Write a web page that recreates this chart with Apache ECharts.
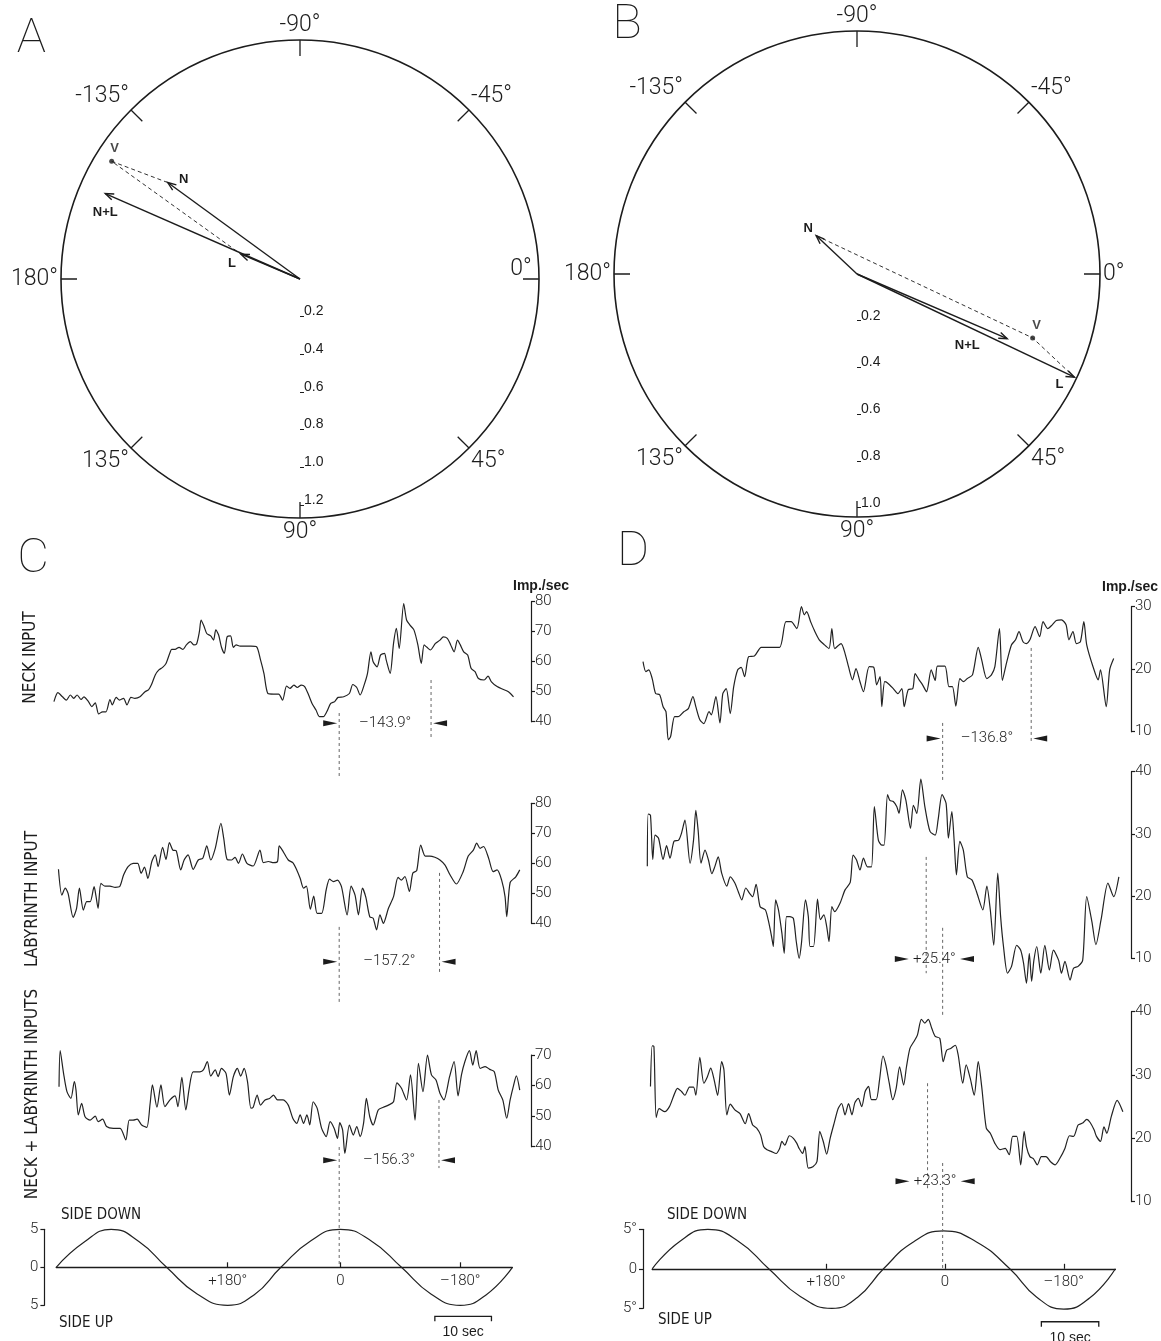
<!DOCTYPE html>
<html>
<head>
<meta charset="utf-8">
<title>Neck and labyrinth input vectors</title>
<script src="https://cdn.jsdelivr.net/npm/echarts@6/dist/echarts.min.js"></script>
<style>
  html, body { margin: 0; padding: 0; background: #ffffff; }
  #chart { width: 1161px; height: 1341px; }
</style>
</head>
<body>
<div id="chart"></div>
<script>
// ------------------------------------------------------------------
// Data
// ------------------------------------------------------------------

// Sinusoidal lateral tilt (±5°), period in seconds
const STIM_PERIOD = 40.6;

// Polar plots: response vectors (gain, phase in degrees)
const vectorNames = ['N', 'L', 'N+L'];
const gainA = [0.87, 0.34, 1.13];
const phaseA = [-143.9, -157.2, -156.3];
const predictedA = [1.18, -148.0];          // V = vector sum of N and L
const gainB = [0.24, 1.03, 0.70];
const phaseB = [-136.8, 25.4, 23.3];
const predictedB = [0.80, 20.0];

const radiusTicksA = [0.2, 0.4, 0.6, 0.8, 1.0, 1.2];
const radiusTicksB = [0.2, 0.4, 0.6, 0.8, 1.0];

// Discharge rate (imp./sec) against time (s) — cell C
const neckC = [[-0.4,46.7],[0.3,49.7],[1.1,48.3],[1.8,47.2],[2.5,48.9],[3.1,47.8],[3.7,48.9],[4.4,47.4],[4.9,48.3],[5.7,46.7],[6.3,45.0],[6.9,46.3],[7.5,42.6],[8.2,43.3],[8.8,43.3],[9.5,47.4],[9.9,45.6],[10.6,48.1],[11.2,47.2],[11.9,47.8],[12.5,45.6],[13.2,48.1],[13.9,47.8],[14.8,48.3],[15.7,50.0],[16.3,50.6],[16.8,52.2],[17.5,55.6],[18.1,57.2],[18.8,58.1],[19.4,59.4],[20.1,63.0],[20.4,64.1],[21.0,64.1],[21.7,64.8],[22.4,64.1],[23.0,65.6],[23.7,66.7],[24.3,65.6],[24.8,65.9],[25.3,70.0],[25.6,73.9],[26.1,71.9],[26.6,69.4],[27.3,68.6],[27.8,67.2],[28.2,70.6],[28.7,68.9],[29.2,64.8],[29.7,62.8],[30.2,68.3],[30.8,68.6],[31.3,64.8],[31.8,65.6],[32.5,65.2],[33.5,65.2],[34.4,65.2],[35.4,65.0],[36.1,60.6],[36.7,56.1],[37.4,49.4],[38.4,49.2],[39.3,49.2],[40.0,47.2],[40.7,51.9],[41.3,51.1],[42.0,52.2],[42.6,51.4],[43.3,52.2],[43.9,51.7],[44.6,48.9],[45.2,46.1],[45.9,43.9],[46.5,41.7],[47.2,41.7],[47.8,43.3],[48.5,46.1],[49.2,46.7],[49.8,48.1],[50.8,48.3],[51.8,49.4],[52.4,52.4],[53.1,51.4],[53.7,48.9],[54.4,52.2],[55.0,56.1],[55.6,63.3],[56.0,60.0],[56.7,58.3],[57.3,62.2],[58.0,62.8],[58.3,60.6],[59.0,56.1],[59.6,66.1],[60.1,71.1],[60.6,64.4],[61.4,79.4],[61.9,73.9],[62.5,72.2],[63.2,70.6],[63.9,65.6],[64.5,59.4],[65.0,65.6],[65.5,64.8],[66.1,63.9],[67.0,66.1],[67.8,67.2],[68.4,68.3],[69.1,67.8],[69.7,65.6],[70.3,63.3],[70.9,67.2],[71.4,65.6],[72.0,63.3],[72.7,62.2],[73.3,57.8],[74.0,56.7],[74.6,54.4],[75.6,53.9],[76.3,55.2],[76.9,53.3],[77.9,51.7],[78.9,50.8],[79.9,50.0],[80.8,48.3]];

const labyrinthC = [[0.4,58.0],[1.0,49.4],[1.6,51.7],[2.1,50.0],[3.0,42.0],[3.6,45.0],[4.1,51.7],[4.8,44.4],[5.4,47.2],[6.0,47.2],[6.7,52.2],[7.0,49.4],[7.4,45.0],[7.9,53.3],[8.6,52.4],[9.5,52.4],[10.4,52.0],[11.2,52.2],[11.9,56.1],[12.7,58.9],[13.6,60.0],[14.4,60.0],[15.0,56.7],[15.6,58.7],[16.2,55.0],[16.9,60.6],[17.5,62.8],[18.0,58.9],[18.8,65.3],[19.4,61.3],[20.0,66.9],[20.6,64.4],[21.2,64.2],[22.0,57.8],[22.6,61.1],[23.3,62.8],[24.2,58.0],[25.1,61.1],[25.9,61.7],[26.6,65.8],[27.3,61.1],[28.1,65.0],[29.1,73.3],[29.6,68.3],[30.2,61.3],[31.0,61.1],[31.6,62.0],[32.2,60.0],[32.9,63.1],[33.7,60.0],[34.8,59.1],[36.0,64.4],[36.6,60.2],[37.5,60.6],[38.4,60.2],[39.1,60.6],[39.4,65.8],[40.1,63.9],[41.0,61.1],[41.8,60.2],[42.5,57.8],[43.1,55.0],[43.7,51.7],[44.2,52.4],[44.9,44.7],[45.5,49.1],[46.1,43.3],[46.9,43.3],[47.7,51.1],[48.3,54.7],[49.0,53.9],[49.7,54.4],[50.4,52.2],[51.4,42.8],[52.1,52.4],[52.8,49.4],[53.4,42.8],[54.1,51.7],[54.7,48.7],[55.4,42.2],[56.0,41.7],[56.6,37.8],[57.2,42.8],[57.8,40.0],[58.7,45.0],[59.6,48.9],[60.4,55.3],[61.0,54.4],[61.6,55.6],[62.4,50.6],[63.0,56.7],[63.7,57.6],[64.4,66.1],[65.2,62.4],[66.0,62.4],[66.9,62.0],[67.8,61.1],[68.7,59.4],[69.6,56.1],[70.7,53.1],[71.9,57.2],[72.8,62.4],[73.7,64.4],[74.3,66.7],[74.9,65.0],[75.5,65.6],[76.4,61.7],[77.2,57.2],[77.9,57.8],[78.7,54.4],[79.3,48.9],[79.6,42.2],[80.2,53.6],[81.2,55.5],[81.9,57.8]];

const combinedC = [[0.5,59.6],[0.7,71.4],[1.3,64.0],[1.9,58.0],[2.6,55.8],[3.2,61.3],[3.5,58.5],[3.9,50.4],[4.5,54.2],[5.1,49.8],[6.0,48.7],[6.9,50.0],[7.4,48.2],[8.2,49.0],[8.9,46.6],[10.1,46.0],[11.3,46.0],[12.3,42.2],[12.9,48.7],[13.6,48.7],[14.3,49.0],[15.1,47.1],[16.0,46.3],[16.6,54.2],[17.0,60.2],[17.8,52.9],[18.5,60.2],[19.2,53.1],[20.1,55.3],[21.0,56.6],[21.5,53.1],[22.2,62.7],[22.9,52.0],[23.5,59.1],[24.2,64.5],[25.4,64.5],[26.0,65.1],[26.7,67.8],[27.3,63.1],[28.1,65.1],[28.6,62.9],[29.2,65.6],[30.0,64.0],[30.6,56.9],[31.3,62.9],[32.0,65.6],[32.6,63.1],[33.2,65.6],[33.8,61.3],[34.4,52.6],[34.8,52.9],[35.5,56.9],[36.1,53.6],[36.9,55.3],[37.7,55.8],[38.4,56.9],[39.1,55.3],[40.1,55.3],[41.0,53.6],[41.8,49.3],[42.5,47.6],[43.1,50.4],[43.7,47.6],[44.3,50.4],[44.8,47.1],[45.4,54.7],[46.1,52.6],[46.9,46.0],[47.7,43.3],[48.4,48.2],[49.1,46.0],[49.7,42.7],[50.1,47.9],[50.6,45.5],[51.0,37.8],[51.8,47.1],[52.5,43.8],[53.1,46.6],[53.7,43.3],[54.3,47.6],[54.8,55.8],[55.4,49.8],[56.0,47.1],[56.9,52.0],[57.8,52.9],[58.7,53.6],[59.6,54.7],[60.2,60.9],[61.0,59.1],[61.9,55.3],[62.6,63.5],[63.4,48.7],[64.0,67.3],[64.8,58.0],[65.6,70.0],[66.3,63.5],[67.1,61.8],[67.8,57.5],[68.5,55.3],[69.5,62.9],[70.3,67.8],[71.0,56.6],[71.6,63.5],[72.2,67.8],[73.0,71.4],[73.6,66.7],[74.2,71.4],[74.9,65.6],[75.8,66.2],[76.6,65.3],[77.4,64.5],[78.1,58.5],[78.9,55.3],[79.6,49.3],[80.2,55.3],[80.8,60.0],[81.3,63.2],[81.9,58.5]];

// Cell D
const neckD = [[-1.6,21.2],[-1.1,19.6],[-0.6,19.9],[0.0,18.5],[0.6,16.1],[1.3,15.9],[1.9,14.0],[2.4,13.2],[2.8,8.7],[3.2,9.2],[3.9,12.4],[4.5,12.4],[5.5,13.2],[6.3,13.7],[7.1,15.6],[7.6,14.0],[8.3,11.9],[9.0,11.3],[9.9,13.2],[10.3,12.7],[11.1,15.6],[11.8,11.4],[12.3,16.1],[12.9,16.9],[13.6,12.9],[14.2,17.2],[14.9,19.9],[15.5,20.3],[16.1,18.8],[16.8,22.0],[17.8,22.1],[19.0,23.5],[20.3,23.5],[22.2,23.5],[23.3,27.6],[24.2,27.6],[25.2,26.5],[26.0,30.0],[26.5,28.7],[26.9,29.2],[27.6,27.6],[28.2,26.3],[29.1,24.7],[30.0,23.9],[30.8,23.3],[31.3,26.5],[31.8,23.3],[32.9,24.1],[33.6,22.5],[34.2,20.4],[34.9,18.3],[35.5,20.1],[36.2,18.0],[36.8,16.4],[37.8,20.4],[38.6,20.3],[39.1,17.5],[39.7,18.8],[40.0,14.0],[40.5,18.0],[41.0,17.8],[42.0,16.9],[42.8,16.1],[43.5,16.9],[43.9,14.0],[44.6,16.7],[45.4,16.9],[45.8,19.3],[46.5,18.3],[47.1,17.5],[47.8,16.4],[48.6,19.9],[49.3,18.2],[49.7,20.5],[51.0,20.5],[51.7,17.2],[52.3,17.2],[52.9,14.1],[53.6,18.5],[54.2,18.0],[54.9,18.5],[55.8,19.1],[56.8,23.5],[57.4,21.5],[58.3,18.5],[59.1,19.1],[59.7,20.4],[60.5,26.5],[61.0,18.2],[61.7,20.9],[62.6,23.9],[63.3,24.7],[63.9,26.0],[64.6,24.4],[65.2,24.1],[65.8,24.7],[66.7,26.8],[67.5,25.2],[68.1,27.6],[68.9,26.5],[69.7,27.1],[70.4,27.8],[71.3,27.9],[72.1,27.1],[72.6,24.7],[73.3,26.0],[73.9,24.1],[74.6,24.4],[75.2,27.6],[75.7,23.9],[76.8,20.4],[77.7,18.3],[78.1,19.9],[79.1,14.0],[79.7,19.9],[80.4,21.7]];

const labyrinthD = [[-0.85,24.8],[-0.7,33.2],[-0.3,33.0],[0.1,25.9],[0.5,29.8],[1.1,29.3],[1.9,25.9],[2.5,28.1],[3.1,26.1],[3.8,28.8],[4.6,29.0],[5.1,30.1],[5.7,32.2],[6.6,25.3],[7.2,29.0],[7.6,33.8],[8.0,30.6],[8.5,25.3],[9.2,27.4],[9.8,25.8],[10.4,23.6],[10.9,24.7],[11.5,26.3],[12.1,23.7],[13.0,21.6],[13.6,23.1],[14.4,22.1],[15.0,20.7],[15.6,19.4],[16.3,21.3],[17.0,20.4],[17.5,19.9],[18.1,21.9],[18.8,18.3],[19.7,17.8],[20.2,16.2],[20.8,13.5],[21.1,11.9],[21.5,19.4],[22.0,17.8],[22.6,14.0],[23.0,10.8],[23.4,16.7],[24.0,16.7],[24.6,16.4],[25.1,12.7],[25.6,10.0],[26.0,12.4],[26.7,19.4],[27.2,16.7],[27.5,11.9],[28.1,11.9],[28.8,19.5],[29.3,16.2],[29.9,17.0],[30.4,15.1],[30.8,12.7],[31.3,18.3],[31.8,17.5],[32.7,18.8],[33.6,21.0],[34.5,22.2],[35.0,26.6],[35.6,25.8],[36.2,24.2],[36.8,26.1],[37.5,24.7],[38.2,24.7],[38.7,34.4],[39.4,29.0],[40.0,28.2],[40.4,28.2],[41.0,36.3],[41.4,35.4],[42.0,35.2],[42.6,34.4],[43.0,33.3],[43.6,37.1],[44.2,35.4],[45.0,30.9],[45.5,34.6],[46.1,33.3],[46.8,38.8],[47.5,34.4],[48.4,30.4],[49.3,29.8],[49.8,32.2],[50.5,36.3],[51.2,34.9],[51.6,29.3],[52.2,33.6],[52.6,29.0],[53.0,23.4],[53.6,28.8],[54.2,27.4],[54.9,23.1],[55.7,22.6],[56.5,20.7],[57.6,17.8],[58.3,21.6],[58.9,17.8],[59.5,12.1],[60.2,23.7],[60.7,16.7],[61.2,11.9],[61.9,7.6],[62.6,8.7],[63.5,12.1],[64.2,11.3],[64.7,9.2],[65.2,6.0],[65.7,10.8],[66.1,6.3],[66.5,9.7],[67.0,11.9],[67.7,7.6],[68.4,12.1],[69.2,8.1],[69.9,11.3],[70.8,9.7],[71.3,7.6],[71.9,9.5],[72.8,6.5],[73.4,8.4],[74.2,8.7],[75.0,9.7],[75.7,19.9],[76.6,15.9],[77.3,12.2],[78.2,16.2],[79.4,22.1],[80.4,19.9],[81.3,23.1]];

const combinedD = [[-0.3,28.2],[0.0,34.6],[0.3,34.5],[0.7,23.3],[1.2,24.7],[2.2,24.2],[3.0,25.0],[3.7,26.6],[4.4,27.9],[5.1,27.4],[5.7,26.8],[6.5,28.1],[7.2,28.1],[7.6,26.8],[8.3,32.8],[9.0,28.7],[9.6,29.7],[10.2,31.1],[10.8,29.2],[11.4,26.8],[12.1,32.1],[12.5,30.8],[13.0,23.7],[13.6,25.4],[14.4,24.5],[15.3,23.9],[16.2,22.3],[16.8,23.9],[17.5,22.1],[18.2,21.6],[18.9,20.5],[19.4,18.7],[20.0,18.2],[20.8,17.9],[21.6,17.6],[22.2,18.4],[22.6,19.5],[23.1,18.9],[23.9,20.4],[24.6,20.0],[25.2,19.2],[25.6,18.4],[26.2,17.6],[26.6,18.7],[27.2,15.3],[28.0,15.5],[28.7,16.3],[29.2,21.1],[29.8,19.5],[30.4,17.5],[31.0,20.0],[31.7,22.4],[32.4,24.7],[33.0,25.5],[33.6,23.7],[34.2,25.5],[34.8,23.7],[35.3,25.6],[35.9,26.3],[36.5,25.0],[37.1,27.4],[37.7,28.2],[38.2,26.1],[39.0,26.1],[39.6,29.2],[40.2,33.0],[40.7,31.6],[41.3,28.7],[41.9,26.1],[42.5,27.9],[43.1,31.3],[43.8,28.4],[44.3,31.3],[44.9,34.2],[45.6,35.3],[46.2,36.3],[46.9,38.8],[47.5,38.2],[48.1,38.8],[48.7,37.4],[49.3,36.1],[50.1,35.8],[50.7,32.1],[51.3,33.9],[52.0,34.2],[52.8,34.7],[53.3,33.2],[54.1,28.7],[54.7,31.6],[55.4,29.5],[56.1,26.8],[56.8,32.1],[57.4,28.2],[58.2,21.6],[58.9,20.8],[59.7,19.2],[60.6,18.2],[61.5,18.4],[62.2,17.4],[62.8,20.3],[63.5,20.3],[64.2,15.8],[64.8,21.1],[65.2,18.7],[65.8,17.1],[66.4,16.8],[67.1,15.8],[67.8,17.1],[68.6,17.1],[69.4,16.3],[70.2,15.8],[71.0,16.8],[71.9,18.4],[72.7,20.4],[73.4,20.3],[74.2,22.1],[75.0,22.4],[75.7,23.0],[76.3,22.5],[77.0,21.3],[77.4,20.3],[78.1,19.5],[78.7,21.8],[79.2,20.8],[80.0,23.5],[81.0,26.0],[82.0,24.2]];

// Table tilt (deg, side down positive) against time (s)
const tiltC = [[0,0],[4.9,3.3],[9.7,5],[14.6,3.4],[19.5,0],[24.9,-3.5],[30.3,-5],[35.0,-3.6],[39.7,0],[45.0,3.5],[50.2,5],[55.6,3.5],[61.0,0],[66.2,-3.5],[71.4,-5],[76.0,-3.6],[80.6,0]];
const tiltD = [[0,0],[4.85,3.5],[9.7,5],[15.0,3.5],[20.3,0],[25.8,-3.5],[31.3,-5],[35.8,-3.6],[40.3,0],[45.5,3.4],[50.7,4.8],[56.5,3.4],[62.3,0],[67.0,-3.6],[71.7,-5.1],[76.2,-3.7],[80.7,0]];

// Stimulus phase marks on the tilt trace
const tiltTickTimesC = [30.3, 50.2, 71.4];
const tiltTickTimesD = [30.3, 51.0, 71.7];
const tiltTickLabels = ['+180°', '0', '\u2013180°'];

// Response phase (deg) measured from the stimulus peak
const phaseC = [-143.9, -157.2, -156.3];
const phaseD = [-136.8, 25.4, 23.3];
const stimPeakC = 50.0;
const stimPeakD = 50.6;

// 10 s calibration bar start (s)
const barStartC = 66.9;
const barStartD = 67.8;
const BAR_LENGTH = 10;

// ------------------------------------------------------------------
// Styling and layout
// ------------------------------------------------------------------
const INK = '#1c1c1c';
const SANS = '"Liberation Sans", Arial, Helvetica, sans-serif';
const LIGHT = 'Roboto, "Liberation Sans", Arial, sans-serif';
const NARROW = '"Liberation Sans Narrow", "DejaVu Sans Condensed", "Liberation Sans", sans-serif';

const toAxisAngle = a => (a < 90 ? a + 360 : a);
const angleText = v => {
  if (v >= 450) return '';
  const d = v > 180 ? v - 360 : v;
  return d + '°';
};

const polarLayout = [
  { center: [300, 279], radius: 239, max: 1.27, ticks: radiusTicksA },
  { center: [857, 274], radius: 243, max: 1.04, ticks: radiusTicksB }
];

// vector label offsets (px from tip)
const labelOffsetsA = { 'N': [16, -3], 'L': [-9, 9], 'N+L': [0, 19], 'V': [3, -12] };
const labelOffsetsB = { 'N': [-8, -7], 'L': [-15, 7], 'N+L': [-40, 7], 'V': [4, -10] };

const panelC = { x0: 56.2, pps: 5.66, axisX: 531, tMin: -1 };
const panelD = { x0: 652.2, pps: 5.74, axisX: 1131, tMin: -2 };

const traceRows = [
  { panel: panelC, top: 601.7, min: 40, max: 80, ppu: 3.0,  data: neckC },
  { panel: panelC, top: 803.3, min: 40, max: 80, ppu: 3.0,  data: labyrinthC },
  { panel: panelC, top: 1055,  min: 40, max: 70, ppu: 3.056, data: combinedC },
  { panel: panelD, top: 606.7, min: 10, max: 30, ppu: 6.25, data: neckD },
  { panel: panelD, top: 771.7, min: 10, max: 40, ppu: 6.22, data: labyrinthD },
  { panel: panelD, top: 1011.7, min: 10, max: 40, ppu: 6.33, data: combinedD }
];
const tiltRows = [
  { panel: panelC, top: 1229.3, ppu: 7.6, axisGap: 11.8, data: tiltC, ticks: tiltTickTimesC, deg: false, bar: barStartC, barLevel: -6.45 },
  { panel: panelD, top: 1229.3, ppu: 7.9, axisGap: 9.2, data: tiltD, ticks: tiltTickTimesD, deg: true, bar: barStartD, barLevel: -6.7 }
];

// phase mark geometry in value units of each trace axis
const markLayout = [
  { row: 39.5, ref: [42.9, 21.2], resp: [53.9, 34.9] },
  { row: 27.2, ref: [38.8, 13.4], resp: [56.8, 23.8] },
  { row: 35.6, ref: [39.9, 0.6],  resp: [55.3, 33.0] },
  { row: 8.9,  ref: [11.4, 1.9],  resp: [23.4, 8.2] },
  { row: 9.9,  ref: [14.9, 0.9],  resp: [26.3, 7.6] },
  { row: 13.2, ref: [16.1, -0.6], resp: [28.7, 11.8] }
];

// ------------------------------------------------------------------
// Option
// ------------------------------------------------------------------
const grids = [], xAxes = [], yAxes = [], series = [];

traceRows.forEach((row, i) => {
  const p = row.panel;
  const left = p.x0 + p.tMin * p.pps;
  grids.push({ left, top: row.top, width: p.axisX - left, height: (row.max - row.min) * row.ppu,
               containLabel: false, outerBoundsMode: 'none' });
  xAxes.push({ gridIndex: i, type: 'value', min: p.tMin, max: (p.axisX - p.x0) / p.pps, show: false });
  yAxes.push({
    gridIndex: i, type: 'value', position: 'right', min: row.min, max: row.max, interval: 10,
    axisLine: { show: true, onZero: false, lineStyle: { color: INK, width: 1.2 } },
    axisTick: { show: true, length: 4, lineStyle: { color: INK, width: 1.2 } },
    axisLabel: { show: true, margin: 4, color: INK, fontSize: 15, fontFamily: LIGHT, fontWeight: 300 },
    splitLine: { show: false }
  });
  series.push({
    type: 'line', xAxisIndex: i, yAxisIndex: i, data: row.data, showSymbol: false, symbol: 'none',
    smooth: 0.25, clip: false, silent: true, z: 3,
    lineStyle: { color: '#222', width: 1.2 }
  });
});

tiltRows.forEach((row, k) => {
  const i = grids.length;
  const p = row.panel;
  const tEnd = row.data[row.data.length - 1][0];
  const half = 5 * row.ppu;
  grids.push({ left: p.x0, top: row.top, width: tEnd * p.pps, height: 2 * half,
               containLabel: false, outerBoundsMode: 'none' });
  // time axis drawn through the zero-tilt line
  xAxes.push({
    gridIndex: i, type: 'value', min: 0, max: tEnd, position: 'bottom', offset: -half,
    axisLine: { show: true, onZero: false, lineStyle: { color: INK, width: 1.3 } },
    axisTick: { show: true, inside: true, length: 5, customValues: row.ticks, lineStyle: { color: INK, width: 1.2 } },
    axisLabel: {
      show: true, customValues: row.ticks, margin: 6, color: INK, fontSize: 15, fontFamily: LIGHT, fontWeight: 300,
      formatter: v => { const j = row.ticks.findIndex(t => Math.abs(t - v) < 1e-6); return j >= 0 ? tiltTickLabels[j] : ''; }
    },
    splitLine: { show: false }
  });
  yAxes.push({
    gridIndex: i, type: 'value', position: 'left', offset: row.axisGap, min: -5, max: 5, interval: 5,
    axisLine: { show: true, onZero: false, lineStyle: { color: INK, width: 1.2 } },
    axisTick: { show: true, length: 4, lineStyle: { color: INK, width: 1.2 } },
    axisLabel: { show: true, margin: 6, color: INK, fontSize: 15, fontFamily: LIGHT, fontWeight: 300,
                 formatter: v => (v === 0 ? '0' : Math.abs(v) + (row.deg ? '°' : '')) },
    splitLine: { show: false }
  });
  series.push({
    type: 'line', xAxisIndex: i, yAxisIndex: i, data: row.data, showSymbol: false, symbol: 'none',
    smooth: 0.5, clip: false, silent: true, z: 3, lineStyle: { color: '#222', width: 1.2 }
  });
  // 10 s calibration bar
  series.push({
    type: 'custom', xAxisIndex: i, yAxisIndex: i, silent: true, z: 4,
    data: [[row.bar, BAR_LENGTH]],
    renderItem: (params, api) => {
      const a = api.coord([api.value(0), row.barLevel]);
      const b = api.coord([api.value(0) + api.value(1), row.barLevel]);
      return { type: 'group', children: [
        { type: 'polyline', shape: { points: [[a[0], a[1] + 5], a, b, [b[0], b[1] + 5]] },
          style: { stroke: INK, lineWidth: 1.3, fill: null } },
        { type: 'text', x: (a[0] + b[0]) / 2, y: a[1] + 16,
          style: { text: '10 sec', fill: INK, fontSize: 14, fontFamily: SANS,
                   align: 'center', verticalAlign: 'middle', textAlign: 'center', textVerticalAlign: 'middle' } }
      ] };
    }
  });
});

// phase marks on each discharge trace
const allPhases = phaseC.concat(phaseD);
allPhases.forEach((ph, i) => {
  const lay = markLayout[i];
  const t0 = i < 3 ? stimPeakC : stimPeakD;
  series.push({
    type: 'custom', xAxisIndex: i, yAxisIndex: i, silent: true, z: 4,
    data: [[t0, ph]],
    renderItem: (params, api) => {
      const tRef = api.value(0), phase = api.value(1);
      const tResp = tRef - phase / 360 * STIM_PERIOD;
      const r1 = api.coord([tRef, lay.ref[0]]), r2 = api.coord([tRef, lay.ref[1]]);
      const p1 = api.coord([tResp, lay.resp[0]]), p2 = api.coord([tResp, lay.resp[1]]);
      const y = api.coord([tRef, lay.row])[1];
      const lo = Math.min(r1[0], p1[0]), hi = Math.max(r1[0], p1[0]);
      const text = (phase < 0 ? '\u2013' : '+') + Math.abs(phase).toFixed(1) + '°';
      const cx = (lo + hi) / 2, half = text.length * 3.6;
      const tl = Math.min(lo - 2, cx - half - 4), tr = Math.max(hi + 2, cx + half + 4);
      const dash = { stroke: '#666', lineWidth: 1, lineDash: [3, 3], fill: null };
      return { type: 'group', children: [
        { type: 'line', shape: { x1: r1[0], y1: r1[1], x2: r2[0], y2: r2[1] }, style: dash },
        { type: 'line', shape: { x1: p1[0], y1: p1[1], x2: p2[0], y2: p2[1] }, style: dash },
        { type: 'polygon', shape: { points: [[tl - 14, y - 3], [tl, y], [tl - 14, y + 3]] }, style: { fill: INK } },
        { type: 'polygon', shape: { points: [[tr + 14, y - 3], [tr, y], [tr + 14, y + 3]] }, style: { fill: INK } },
        { type: 'text', x: cx, y: y,
          style: { text, fill: INK, fontSize: 15, fontFamily: LIGHT, fontWeight: 300,
                   align: 'center', verticalAlign: 'middle', textAlign: 'center', textVerticalAlign: 'middle' } }
      ] };
    }
  });
});

// polar diagrams
const angleAxes = [], radiusAxes = [], polars = [];
polarLayout.forEach((pl, i) => {
  polars.push({ center: pl.center, radius: pl.radius });
  angleAxes.push({
    polarIndex: i, type: 'value', min: 90, max: 450, interval: 45, startAngle: 270, clockwise: true,
    axisLine: { show: true, lineStyle: { color: INK, width: 1.6 } },
    axisTick: { show: true, inside: true, length: 16, lineStyle: { color: INK, width: 1.3 } },
    axisLabel: { show: true, margin: 3, color: INK, fontSize: 23, fontFamily: LIGHT, fontWeight: 300,
                 formatter: i === 0 ? (v => (v === 360 ? '' : angleText(v))) : angleText },
    splitLine: { show: false }, splitArea: { show: false }
  });
  radiusAxes.push({
    polarIndex: i, type: 'value', min: 0, max: pl.max, interval: 0.2,
    axisLine: { show: false },
    axisTick: { show: true, length: 4, customValues: pl.ticks, lineStyle: { color: INK, width: 1 } },
    axisLabel: { show: true, customValues: pl.ticks, margin: 4, color: INK, fontSize: 14, fontFamily: SANS,
                 verticalAlign: 'bottom', lineHeight: 10,
                 formatter: v => (pl.ticks.some(t => Math.abs(t - v) < 1e-6) ? v.toFixed(1) : '') },
    splitLine: { show: false }, splitArea: { show: false }
  });
});

function vectorSeries(pi, gains, phases, offsets) {
  return {
    type: 'custom', coordinateSystem: 'polar', polarIndex: pi, silent: true, z: 5,
    data: gains.map((g, k) => [g, toAxisAngle(phases[k])]),
    renderItem: (params, api) => {
      const name = vectorNames[params.dataIndex];
      const tip = api.coord([api.value(0), api.value(1)]);
      const o = api.coord([0, api.value(1)]);
      const dx = tip[0] - o[0], dy = tip[1] - o[1];
      const len = Math.hypot(dx, dy) || 1;
      const ux = dx / len, uy = dy / len, h = 9, w = 0.36;
      const head = s => [tip[0] - h * (ux * Math.cos(s * w) - uy * Math.sin(s * w)),
                         tip[1] - h * (uy * Math.cos(s * w) + ux * Math.sin(s * w))];
      const off = offsets[name];
      return { type: 'group', children: [
        { type: 'line', shape: { x1: o[0], y1: o[1], x2: tip[0], y2: tip[1] }, style: { stroke: INK, lineWidth: 1.4 } },
        { type: 'polyline', shape: { points: [head(1), tip, head(-1)] }, style: { stroke: INK, lineWidth: 1.4, fill: null } },
        { type: 'text', x: tip[0] + off[0], y: tip[1] + off[1],
          style: { text: name, fill: INK, fontSize: 13, fontWeight: 'bold', fontFamily: SANS,
                   align: 'center', verticalAlign: 'middle', textAlign: 'center', textVerticalAlign: 'middle' } }
      ] };
    }
  };
}

function sumSeries(pi, gains, phases, pred, offsets) {
  return [
    { type: 'line', coordinateSystem: 'polar', polarIndex: pi, silent: true, z: 4, symbol: 'none', showSymbol: false,
      data: [[gains[0], toAxisAngle(phases[0])], [pred[0], toAxisAngle(pred[1])], [gains[1], toAxisAngle(phases[1])]],
      lineStyle: { color: '#333', width: 1, type: [4, 3] } },
    { type: 'scatter', coordinateSystem: 'polar', polarIndex: pi, silent: true, z: 6,
      data: [[pred[0], toAxisAngle(pred[1])]], symbol: 'circle', symbolSize: 5,
      itemStyle: { color: INK },
      label: { show: true, formatter: 'V', position: 'top', distance: 4, offset: [offsets.V[0], 0],
               color: INK, fontSize: 13, fontWeight: 'bold', fontFamily: SANS } }
  ];
}

series.push(vectorSeries(0, gainA, phaseA, labelOffsetsA));
series.push(vectorSeries(1, gainB, phaseB, labelOffsetsB));
series.push(...sumSeries(0, gainA, phaseA, predictedA, labelOffsetsA));
series.push(...sumSeries(1, gainB, phaseB, predictedB, labelOffsetsB));

// 0° label of diagram A sits inside the circle
series.push({
  type: 'custom', coordinateSystem: 'polar', polarIndex: 0, silent: true, z: 5,
  data: [[polarLayout[0].max, 360]],
  renderItem: (params, api) => {
    const p = api.coord([api.value(0), api.value(1)]);
    return { type: 'text', x: p[0] - 18, y: p[1] - 10,
      style: { text: '0°', fill: INK, fontSize: 23, fontFamily: LIGHT, fontWeight: 300,
               align: 'center', verticalAlign: 'middle', textAlign: 'center', textVerticalAlign: 'middle' } };
  }
});

// static texts
const txt = (text, x, y, size, o = {}) => ({
  type: 'text', x, y, rotation: o.rot || 0, silent: true,
  style: { text, fill: INK, fontSize: size, fontFamily: o.family || SANS, fontWeight: o.weight || 'normal',
           align: o.align || 'center', verticalAlign: 'middle',
           textAlign: o.align || 'center', textVerticalAlign: 'middle' }
});
const graphics = [
  txt('A', 31.5, 40, 49, { family: LIGHT, weight: 100 }),
  txt('B', 627, 26, 49, { family: LIGHT, weight: 100 }),
  txt('C', 33, 560, 49, { family: LIGHT, weight: 100 }),
  txt('D', 633, 553, 49, { family: LIGHT, weight: 100 }),
  txt('NECK INPUT', 30.5, 657.5, 17, { family: NARROW, rot: Math.PI / 2 }),
  txt('LABYRINTH INPUT', 33, 899, 17, { family: NARROW, rot: Math.PI / 2 }),
  txt('NECK + LABYRINTH INPUTS', 33, 1094, 17, { family: NARROW, rot: Math.PI / 2 }),
  txt('Imp./sec', 541, 586, 14, { weight: 'bold' }),
  txt('Imp./sec', 1130, 587, 14, { weight: 'bold' }),
  txt('SIDE DOWN', 61, 1215, 15, { align: 'left', family: NARROW }),
  txt('SIDE UP', 59, 1323, 15, { align: 'left', family: NARROW }),
  txt('SIDE DOWN', 667, 1215, 15, { align: 'left', family: NARROW }),
  txt('SIDE UP', 658, 1320, 15, { align: 'left', family: NARROW })
];

const option = {
  animation: false,
  backgroundColor: '#ffffff',
  textStyle: { fontFamily: SANS, color: INK },
  grid: grids,
  xAxis: xAxes,
  yAxis: yAxes,
  polar: polars,
  angleAxis: angleAxes,
  radiusAxis: radiusAxes,
  series: series,
  graphic: { elements: graphics }
};

const chart = echarts.init(document.getElementById('chart'), null, { renderer: 'canvas', width: 1161, height: 1341 });
chart.setOption(option);
</script>
</body>
</html>
